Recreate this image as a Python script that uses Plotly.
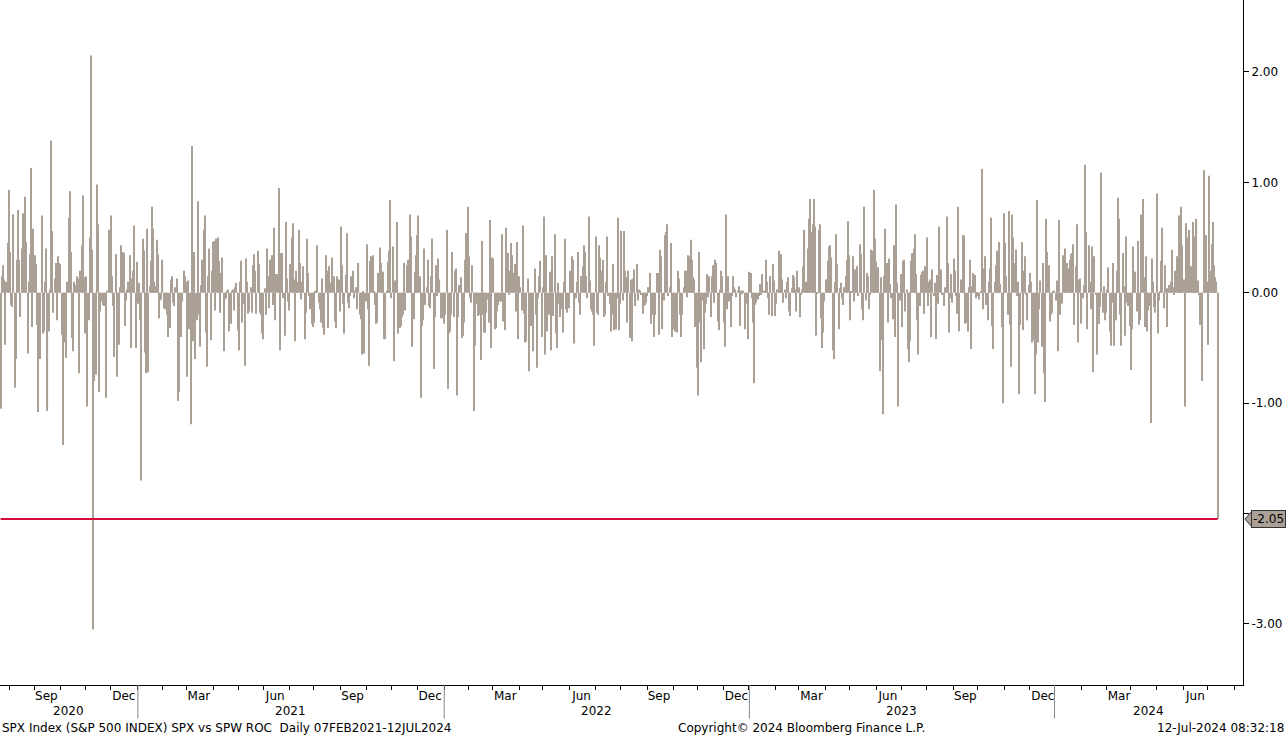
import pandas as pd
import plotly.graph_objects as go

# SPX vs SPW ROC, daily values (oldest -> newest)
roc_part1 = [-1.05, 0.15, 0.25, 0.12, -0.47, 0.10, 0.45, 0.93, 0.37, -0.11,
             -0.13, 0.71, -0.86, -0.60, 0.30, 0.75, 0.30, -0.22, 0.40, 0.72,
             0.48, 0.87, 0.46, -0.55, 0.10, 0.35, 1.13, -0.31, 0.58, 0.34,
             0.26, -0.29, -1.08, -0.57, -0.60, 0.70, -0.37, -0.35, 0.10, 0.40,
             -1.07, -0.35, 0.03, 1.38, 0.56, -0.18, 0.13, 0.27, -0.25, 0.33,
             0.27, 0.26, -0.38, -1.38, -0.37, -0.45, -0.59, 0.10, 0.68, 0.92,
             0.37, -0.41, -0.53, 0.10, 0.07, 0.15, 0.13, -0.73, 0.20, 0.43,
             0.88, 0.14, -0.37, 0.15, -1.03, -0.25, 0.50, 2.15, 0.39, -3.05,
             -0.80, -0.74, 0.98, 0.62, -0.90, -0.17, -0.08, -0.11, -0.12, -0.10,
             -0.95, 0.02, 0.57, 0.30, 0.70, 0.15, -0.12, -0.58, 0.35, -0.76,
             -0.03, -0.47, 0.05, 0.43, 0.37, 0.36, -0.30]
roc_part2 = [-0.07, 0.03, 0.10, 0.34, -0.50, 0.13, 0.20, 0.61, -0.50, 0.28,
             -0.10, 0.09, -0.25, -1.70, 0.49, 0.38, -0.54, -0.73, 0.58, -0.72,
             0.06, 0.29, 0.78, 0.58, 0.10, 0.06, 0.48, 0.35, -0.23, -0.07,
             -0.06, 0.30, -0.14, -0.15, -0.15, -0.20, -0.40, -0.32, 0.12, 0.15,
             -0.09, -0.12, 0.05, 0.13, -0.98, -0.90, -0.40, -0.40, -0.08, 0.20,
             0.15, 0.10, -0.76, 0.11, -0.33, -1.19, 1.33, -0.44, 0.37, -0.60,
             -0.25, 0.83, -0.20, -0.49, 0.07, 0.30, 0.57, 0.70, -0.36, -0.67,
             0.15, 0.40, -0.43, 0.20, 0.46, 0.47, -0.16, 0.49, 0.50, 0.29,
             -0.18, 0.18, 0.32, -0.53, -0.06, -0.05, 0.02, 0.03, -0.35, -0.28,
             0.02, 0.03, -0.16, 0.05, 0.09, -0.34, -0.52, 0.10, 0.29, -0.27,
             -0.10, -0.66]
roc_part3 = [0.31, 0.10, -0.19, -0.17, 0.05, -0.18, 0.25, 0.35, 0.20, -0.19,
             0.38, 0.26, -0.18, -0.20, -0.37, -0.42, 0.04, -0.20, 0.40, 0.15,
             -0.14, 0.30, 0.34, -0.11, 0.59, -0.25, 0.17, 0.17, 0.95, -0.52,
             0.36, 0.36, -0.05, -0.39, 0.64, 0.13, -0.08, -0.16, 0.26, 0.50,
             0.63, 0.12, -0.44, 0.20, 0.10, 0.57, 0.27, -0.06, 0.10, 0.24,
             -0.42, -0.18, 0.49, 0.18, -0.03, -0.15, -0.28, -0.31, -0.27, 0.01,
             0.02, 0.43, -0.09, -0.15, -0.27, 0.13, -0.32, -0.38, 0.34, 0.20,
             -0.32, 0.24, 0.09, 0.32, 0.10, 0.15, -0.26, -0.32, 0.15, 0.12,
             -0.17, 0.60, 0.25, -0.10, -0.37, 0.16, 0.54, -0.09, -0.14, -0.03,
             0.15, 0.20, -0.05, 0.02, 0.05, -0.15, 0.27, -0.20, -0.24, -0.56,
             0.01, -0.55]
roc_part4 = [-0.08, 0.44, -0.15, -0.66, 0.29, 0.33, 0.34, 0.01, -0.11, -0.28,
             -0.27, 0.18, 0.41, 0.27, 0.19, 0.19, -0.42, -0.42, 0.01, 0.28,
             0.38, 0.84, -0.05, 0.42, -0.62, 0.11, 0.11, 0.64, -0.37, -0.32,
             -0.30, -0.22, -0.20, 0.27, -0.16, 0.25, 0.30, 0.30, 0.71, 0.51,
             -0.49, -0.24, 0.19, 0.34, 0.52, 0.70, 0.15, -0.95, -0.30, -0.25,
             0.40, -0.11, 0.05, 0.30, -0.12, -0.14, 0.15, 0.49, -0.69, -0.22,
             0.25, -0.03, 0.31, 0.12, -0.23, -0.23, -0.15, -0.28, -0.20, 0.57,
             -0.87, -0.37, -0.35, -0.20, 0.37, -0.22, 0.20, 0.22, -0.93, -0.22,
             0.07, 0.14, -0.41, -0.39, -0.27, 0.30, 0.54, 0.78, 0.33, -0.05,
             -0.09, 0.25, -1.07, -0.48, -0.10, -0.08, -0.21, -0.20, -0.61, 0.47,
             -0.20, -0.36]
roc_part5 = [-0.36, -0.18, -0.06, -0.27, 0.66, -0.50, 0.32, 0.31, -0.33, -0.32,
             -0.17, -0.11, -0.08, -0.08, 0.53, -0.26, -0.22, -0.34, 0.59, 0.36,
             -0.02, 0.20, 0.45, 0.34, 0.18, 0.26, -0.17, 0.46, -0.42, 0.15,
             0.05, -0.16, 0.61, -0.19, -0.45, -0.44, 0.13, -0.71, -0.03, -0.30,
             -0.27, -0.53, 0.22, -0.20, -0.68, -0.05, 0.15, 0.29, -0.40, 0.05,
             0.69, -0.56, 0.34, -0.35, -0.20, 0.19, -0.52, 0.33, -0.21, 0.53,
             -0.37, -0.50, 0.09, -0.10, -0.22, -0.15, -0.36, 0.10, 0.49, -0.15,
             -0.18, -0.14, 0.20, 0.19, 0.33, 0.30, -0.46, -0.05, 0.10, 0.37,
             -0.09, -0.20, 0.15, 0.24, 0.43, 0.37, 0.15, -0.05, 0.69, 0.11,
             -0.15, -0.17, -0.20, -0.48, 0.51, -0.18, -0.20, 0.43, 0.32, 0.20,
             0.30, -0.22]
roc_part6 = [-0.20, 0.10, 0.51, -0.03, -0.10, -0.35, -0.20, 0.26, -0.34, -0.33,
             -0.05, 0.68, -0.34, -0.10, 0.56, -0.07, 0.56, 0.20, 0.14, -0.27,
             0.20, -0.41, 0.12, -0.44, 0.13, 0.21, -0.12, 0.26, -0.07, 0.03,
             0.02, -0.02, -0.19, -0.12, -0.11, -0.09, -0.03, 0.05, 0.18, -0.28,
             -0.12, -0.20, -0.40, -0.20, 0.18, 0.18, -0.38, 0.39, 0.33, -0.33,
             -0.07, 0.52, 0.55, 0.62, -0.03, 0.05, 0.45, -0.40, -0.14, -0.33,
             -0.35, -0.36, 0.20, 0.13, -0.20, -0.40, -0.20, 0.05, 0.20, 0.20,
             -0.04, 0.34, 0.33, 0.48, 0.30, 0.14, 0.12, -0.31, -0.68, -0.93,
             0.37, -0.27, -0.63, -0.07, -0.51, -0.18, -0.10, 0.17, -0.04, 0.15,
             -0.22, 0.15, 0.25, -0.09, 0.30, 0.27, -0.26, -0.34, 0.03, 0.20,
             0.15, -0.27]
roc_part7 = [-0.49, 0.71, -0.15, 0.15, -0.08, -0.31, -0.03, 0.15, 0.05, 0.03,
             -0.04, 0.02, 0.06, -0.30, 0.02, -0.01, 0.02, -0.33, -0.10, -0.09,
             -0.42, 0.19, 0.18, -0.05, -0.27, -0.82, -0.11, -0.09, -0.06, -0.03,
             0.08, -0.02, 0.17, 0.02, 0.02, 0.30, 0.10, -0.05, -0.20, 0.15,
             -0.21, 0.26, 0.11, -0.21, -0.10, 0.03, 0.38, 0.17, 0.35, 0.12,
             -0.09, 0.03, -0.05, 0.10, 0.14, -0.17, -0.21, 0.04, 0.16, 0.14,
             0.03, -0.17, 0.20, 0.05, -0.22, -0.02, 0.03, 0.24, 0.57, 0.10,
             0.01, 0.40, 0.67, 0.85, 0.55, 0.62, 0.85, 0.60, -0.39, -0.01,
             0.57, 0.62, -0.23, -0.50, -0.36, -0.08, 0.12, 0.12, 0.29, 0.42,
             0.43, 0.32, -0.52, -0.60, 0.10, 0.53, 0.26, -0.33, 0.04, 0.09,
             -0.05, -0.11]
roc_part8 = [0.05, 0.15, 0.30, 0.65, 0.34, -0.25, 0.01, 0.33, -0.08, 0.21,
             0.17, 0.24, -0.03, 0.44, 0.35, -0.15, -0.25, 0.78, -0.07, 0.18,
             0.15, -0.15, -0.02, 0.39, 0.38, 0.93, 0.49, 0.28, 0.23, 0.23,
             -0.71, 0.14, -0.43, -1.10, 0.15, 0.58, 0.27, -0.27, 0.31, 0.08,
             -0.05, -0.24, 0.43, -0.40, 0.80, 0.09, -1.03, -0.07, 0.17, -0.31,
             0.29, 0.30, -0.17, 0.03, -0.51, -0.63, -0.44, 0.29, 0.36, 0.40,
             0.53, 0.17, -0.25, -0.56, -0.12, 0.16, 0.19, 0.20, -0.19, 0.24,
             0.50, -0.12, 0.10, 0.12, -0.40, 0.21, -0.03, 0.09, -0.42, 0.16,
             -0.10, 0.60, 0.21, -0.02, -0.02, -0.12, 0.05, 0.69, 0.27, -0.36,
             -0.05, 0.17, -0.09, 0.31, 0.20, -0.03, -0.19, 0.78, -0.35, 0.12,
             0.07, 0.52]
roc_part9 = [0.52, -0.28, -0.27, -0.35, 0.05, 0.30, -0.51, 0.06, 0.18, 0.16,
             -0.05, -0.01, -0.03, -0.06, 0.01, 1.12, -0.15, 0.22, 0.33, -0.11,
             -0.25, 0.10, 0.22, 0.68, -0.30, -0.51, 0.10, 0.25, 0.38, 0.38,
             0.46, 0.08, -0.31, -1.00, 0.72, 0.45, 0.15, -0.20, 0.74, -0.29,
             -0.67, 0.71, 0.50, 0.27, 0.39, -0.03, 0.10, -0.92, -0.29, 0.46,
             -0.34, 0.20, 0.33, -0.02, -0.25, 0.07, 0.18, 0.10, -0.45, -0.43,
             -0.92, -0.56, 0.84, -0.45, -0.15, 0.11, -0.49, 0.27, -0.73, -0.99,
             0.67, 0.37, 0.25, -0.26, -0.20, -0.18, 0.01, 0.02, -0.07, 0.11,
             -0.53, 0.66, -0.20, -0.10, 0.34, 0.18, 0.40, 0.25, 0.27, 0.22,
             0.30, 0.35, 0.36, 0.44, -0.29, 0.24, 0.62, -0.45, 0.12, 0.13,
             -0.28, -0.05, 0.07]
roc_part10 = [1.16, 0.55, -0.33, 0.43, 0.10, -0.15, 0.42, -0.72, 0.33, -0.02,
              -0.56, -0.28, -0.28, -0.13, 1.09, -0.18, 0.06, -0.25, -0.18, 0.03,
              0.23, -0.35, -0.48, -0.09, 0.27, -0.48, -0.25, 0.20, 0.86, 0.67,
              -0.20, -0.48, 0.36, 0.06, -0.39, 0.51, -0.09, -0.12, -0.30, -0.70,
              -0.33, 0.42, 0.19, 0.19, -0.17, 0.47, -0.29, -0.25, 0.71, 0.85,
              0.14, -0.31, 0.33, -0.35, -0.16, -0.12, -1.18, 0.31, 0.10, -0.13,
              -0.18, 0.90, -0.37, -0.07, 0.01, 0.29, 0.59, -0.14, 0.25, 0.04,
              -0.31, 0.04, 0.07, 0.10, 0.39, 0.05, -0.02, 0.20, 0.33, 0.06,
              0.70, 0.05, 0.78, 0.43, 0.12, -1.03, 0.63, 0.50, 0.45, 0.57,
              0.24, 0.03, 0.64, 0.50, 0.51, 0.67, 0.11, -0.02, -0.29, -0.20,
              -0.80, 1.11, 0.52, 0.52, 0.10, -0.47, 1.06, 0.20, 0.44, 0.64,
              0.25, 0.14, 0.10, -2.05]

roc = (roc_part1 + roc_part2 + roc_part3 + roc_part4 + roc_part5 +
       roc_part6 + roc_part7 + roc_part8 + roc_part9 + roc_part10)

last_date = "2024-07-12"
axis_end = "2024-08-12 14:00"
dates = pd.bdate_range(end=last_date, periods=len(roc))

month_tick_months = ["2020-09", "2020-12", "2021-03", "2021-06", "2021-09", "2021-12",
                     "2022-03", "2022-06", "2022-09", "2022-12", "2023-03", "2023-06",
                     "2023-09", "2023-12", "2024-03", "2024-06"]
month_tick_labels = ["Sep", "Dec", "Mar", "Jun", "Sep", "Dec", "Mar", "Jun",
                     "Sep", "Dec", "Mar", "Jun", "Sep", "Dec", "Mar", "Jun"]
year_labels = ["2020", "2021", "2022", "2023", "2024"]
year_boundaries = ["2021-01-01", "2022-01-01", "2023-01-01", "2024-01-01"]
y_tickvals = [-3, -2, -1, 0, 1, 2]
y_ticktext = ["-3.00", "", "-1.00", "0.00", "1.00", "2.00"]

bar_color = "#aba096"
line_color = "#d40a3c"
font_family = "DejaVu Sans"
fs = 12

bday = pd.offsets.BDay()


def mid_month(ym):
    start = pd.Timestamp(ym + "-01")
    end = start + pd.offsets.MonthEnd(1)
    mid = start + (end - start) / 2
    return bday.rollforward(mid.normalize())


tickvals = [mid_month(m) for m in month_tick_months]

x_start = dates[0] - pd.Timedelta(hours=12)
x_end = pd.Timestamp(axis_end)

# year label centres over the visible part of each year
edges = [x_start] + [pd.Timestamp(b) for b in year_boundaries] + [x_end]
year_pos = []
for a, b in zip(edges[:-1], edges[1:]):
    a_b = bday.rollforward(a.normalize())
    b_b = bday.rollback((b - pd.Timedelta(days=1)).normalize())
    n = pd.bdate_range(a_b, b_b)
    year_pos.append(n[len(n) // 2])

fig = go.Figure()
fig.add_trace(go.Bar(x=dates, y=roc, marker=dict(color=bar_color, line=dict(width=0)),
                     showlegend=False, hoverinfo="x+y"))
fig.add_trace(go.Scatter(x=[dates[0], dates[-1]], y=[roc[-1], roc[-1]], mode="lines",
                         line=dict(color=line_color, width=2), showlegend=False,
                         hoverinfo="skip"))

shapes = []
for b in year_boundaries:
    prev = bday.rollback(pd.Timestamp(b) - pd.Timedelta(days=1))
    xs = prev + pd.Timedelta(days=1)
    shapes.append(dict(type="line", xref="x", yref="paper", x0=xs, x1=xs,
                       y0=0, y1=-0.049, line=dict(color="#888888", width=1)))

# pointer of the last-value tag
pw = 7 / 1243
ph = 0.07
tag_y = roc[-1]
shapes.append(dict(type="path", xref="paper", yref="y",
                   path=f"M {1 + 0.0015},{tag_y} L {1 + 0.0015 + pw},{tag_y + ph} "
                        f"L {1 + 0.0015 + pw},{tag_y - ph} Z",
                   fillcolor=bar_color, line=dict(color="#333333", width=1)))

annotations = []
for lbl, pos in zip(year_labels, year_pos):
    annotations.append(dict(x=pos, y=0, xref="x", yref="paper", text=lbl,
                            showarrow=False, yanchor="middle", yshift=-26,
                            font=dict(family=font_family, size=fs, color="black")))
annotations.append(dict(x=0, y=0, xref="paper", yref="paper", xanchor="left",
                        yanchor="middle", yshift=-43, xshift=0, showarrow=False,
                        text="SPX Index (S&P 500 INDEX) SPX vs SPW ROC  Daily 07FEB2021-12JUL2024",
                        font=dict(family=font_family, size=fs, color="black")))
annotations.append(dict(x=801 / 1243, y=0, xref="paper", yref="paper", xanchor="center",
                        yanchor="middle", yshift=-43, showarrow=False,
                        text="Copyright© 2024 Bloomberg Finance L.P.",
                        font=dict(family=font_family, size=fs, color="black")))
annotations.append(dict(x=1, y=0, xref="paper", yref="paper", xanchor="right",
                        yanchor="middle", yshift=-43, xshift=43, showarrow=False,
                        text="12-Jul-2024 08:32:18",
                        font=dict(family=font_family, size=fs, color="black")))
annotations.append(dict(x=1, y=tag_y, xref="paper", yref="y", xanchor="left",
                        yanchor="middle", xshift=8, showarrow=False,
                        text=f"{tag_y:.2f}", bgcolor=bar_color, bordercolor="#333333",
                        borderwidth=1, borderpad=1,
                        font=dict(family=font_family, size=fs, color="black")))

fig.update_layout(
    width=1288, height=737,
    margin=dict(l=0, r=45, t=0, b=52),
    paper_bgcolor="white", plot_bgcolor="white",
    bargap=0.05,
    shapes=shapes, annotations=annotations,
    font=dict(family=font_family, size=fs, color="black"),
    xaxis=dict(
        type="date",
        range=[x_start, x_end],
        rangebreaks=[dict(bounds=["sat", "mon"])],
        tickmode="array", tickvals=tickvals, ticktext=month_tick_labels,
        ticks="", showgrid=False, zeroline=False,
        showline=True, linecolor="black", linewidth=1,
        tickfont=dict(family=font_family, size=fs, color="black"),
        minor=dict(ticks="outside", ticklen=4, tickcolor="black",
                   dtick="M1", tick0="2020-08-01", showgrid=False),
    ),
    yaxis=dict(
        side="right", range=[-3.553, 2.652],
        tickmode="array", tickvals=y_tickvals, ticktext=y_ticktext,
        ticks="outside", ticklen=5, tickcolor="black",
        showgrid=False, zeroline=False,
        showline=True, linecolor="black", linewidth=1,
        tickfont=dict(family=font_family, size=fs, color="black"),
    ),
)

fig.write_html("out.html",
               config={"displayModeBar": False},
               post_script="document.body.style.margin='0';"
                           "document.body.style.overflow='hidden';")
